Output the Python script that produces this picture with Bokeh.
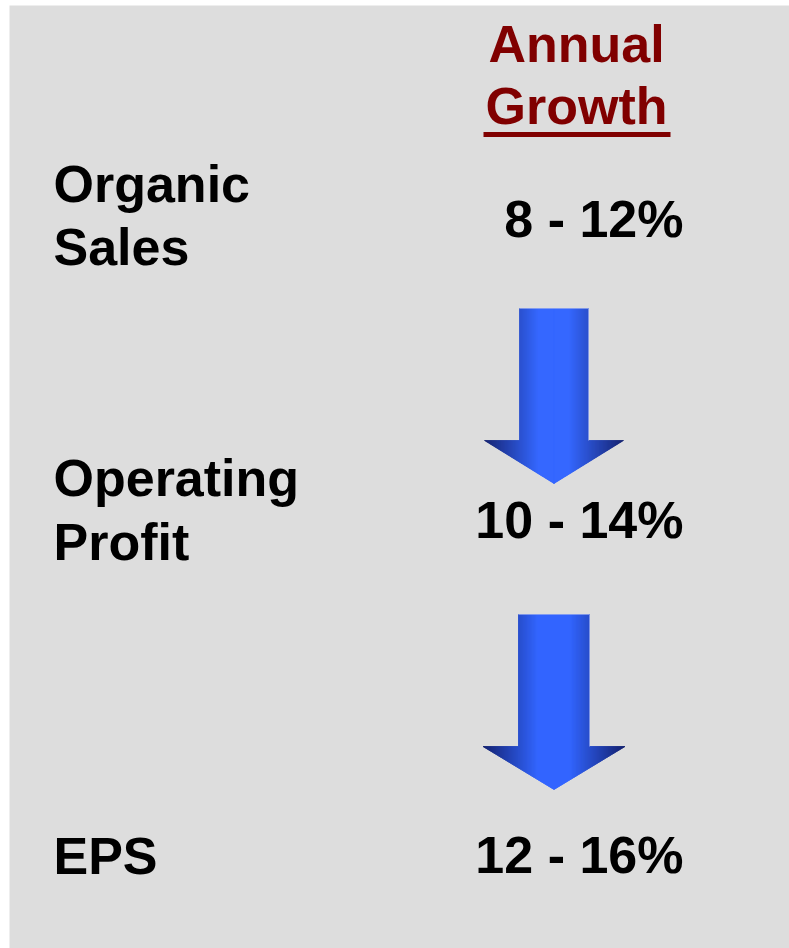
import numpy as np
from bokeh.plotting import figure
from bokeh.models import Range1d
from bokeh.core.properties import value
from bokeh.embed import file_html
from bokeh.resources import INLINE

# ---- content ----
header_lines = ["Annual", "Growth"]
metric_lines = [["Organic", "Sales"], ["Operating", "Profit"], ["EPS"]]
growth_low = [8, 10, 12]
growth_high = [12, 14, 16]

# ---- layout (page pixel coordinates) ----
W, H = 789, 948
PANEL_LEFT, PANEL_TOP = 9, 5
BASE_FIX = -18.5   # compensation for svg baseline placement
FONT = value("Liberation Sans")
FSIZE = "52px"
LABEL_X = 53
VALUE_RIGHT_X = 683
HEADER_CX = 576
HEADER_BASELINES = [62, 124]
UNDERLINE = dict(x0=483, x1=670, y=134, w=5)
LABEL_BASELINES = [[202, 265], [496, 560], [874]]
VALUE_BASELINES = [237, 538, 873]
ARROWS = [
    dict(cx=553.5, sw=34.5, hw=69.5, top=308, neck=440, tip=483),
    dict(cx=553.5, sw=35.5, hw=71.0, top=614, neck=746, tip=789),
]
BRIGHT = np.array([51, 102, 255])
DARK = np.array([20, 34, 112])
HEADER_COLOR = "#800000"

p = figure(width=W, height=H, x_range=Range1d(PANEL_LEFT, W), y_range=Range1d(H, PANEL_TOP),
           output_backend="svg", toolbar_location=None,
           min_border_left=PANEL_LEFT, min_border_top=PANEL_TOP,
           min_border_right=0, min_border_bottom=0,
           x_axis_location=None, y_axis_location=None,
           background_fill_color="#dddddd", border_fill_color="white",
           outline_line_color=None)
p.grid.visible = False


def draw_text(x, y, s, color="black", align="left"):
    p.text(x=[x], y=[y + BASE_FIX], text=[s], text_font=FONT, text_font_size=FSIZE,
           text_font_style="bold", text_color=color, text_align=align,
           text_baseline="alphabetic")


# header
for line, yb in zip(header_lines, HEADER_BASELINES):
    draw_text(HEADER_CX, yb, line, HEADER_COLOR, "center")
p.segment(x0=[UNDERLINE["x0"]], x1=[UNDERLINE["x1"]],
          y0=[UNDERLINE["y"]], y1=[UNDERLINE["y"]],
          line_color=HEADER_COLOR, line_width=UNDERLINE["w"])

# rows
for lines, ybs, lo, hi, vb in zip(metric_lines, LABEL_BASELINES, growth_low,
                                  growth_high, VALUE_BASELINES):
    for line, yb in zip(lines, ybs):
        draw_text(LABEL_X, yb, line)
    draw_text(VALUE_RIGHT_X, vb, f"{lo} - {hi}%", align="right")


# arrows with horizontal gradient
def arrow_strips(cx, sw, hw, top, neck, tip, step=1.0):
    edges = np.unique(np.round(np.concatenate([
        np.arange(cx - hw, cx + hw, step), [cx - sw, cx + sw, cx, cx + hw]]), 3))
    xs, ys, cols = [], [], []

    def ybot(x):
        return neck + (tip - neck) * (1 - abs(x - cx) / hw)

    for a, b in zip(edges[:-1], edges[1:]):
        m = (a + b) / 2
        ytop = top if abs(m - cx) < sw else neck
        xs.append([a, b, b, a])
        ys.append([ytop, ytop, ybot(b), ybot(a)])
        t = abs(m - cx) / hw
        s = max(0.0, (t - 0.22) / 0.78)
        c = BRIGHT * (1 - s) + DARK * s
        cols.append("#%02x%02x%02x" % tuple(int(round(v)) for v in c))
    return xs, ys, cols


for ar in ARROWS:
    xs, ys, cols = arrow_strips(**ar)
    p.patches(xs=xs, ys=ys, fill_color=cols, line_color=cols, line_width=0.8)
    # light edge along shaft top and right side
    p.line(x=[ar["cx"] - ar["sw"], ar["cx"] + ar["sw"], ar["cx"] + ar["sw"]],
           y=[ar["top"], ar["top"], ar["neck"]],
           line_color="#9fb0ee", line_width=1, line_alpha=0.7)

open("out.html", "w").write(file_html(p, INLINE))
